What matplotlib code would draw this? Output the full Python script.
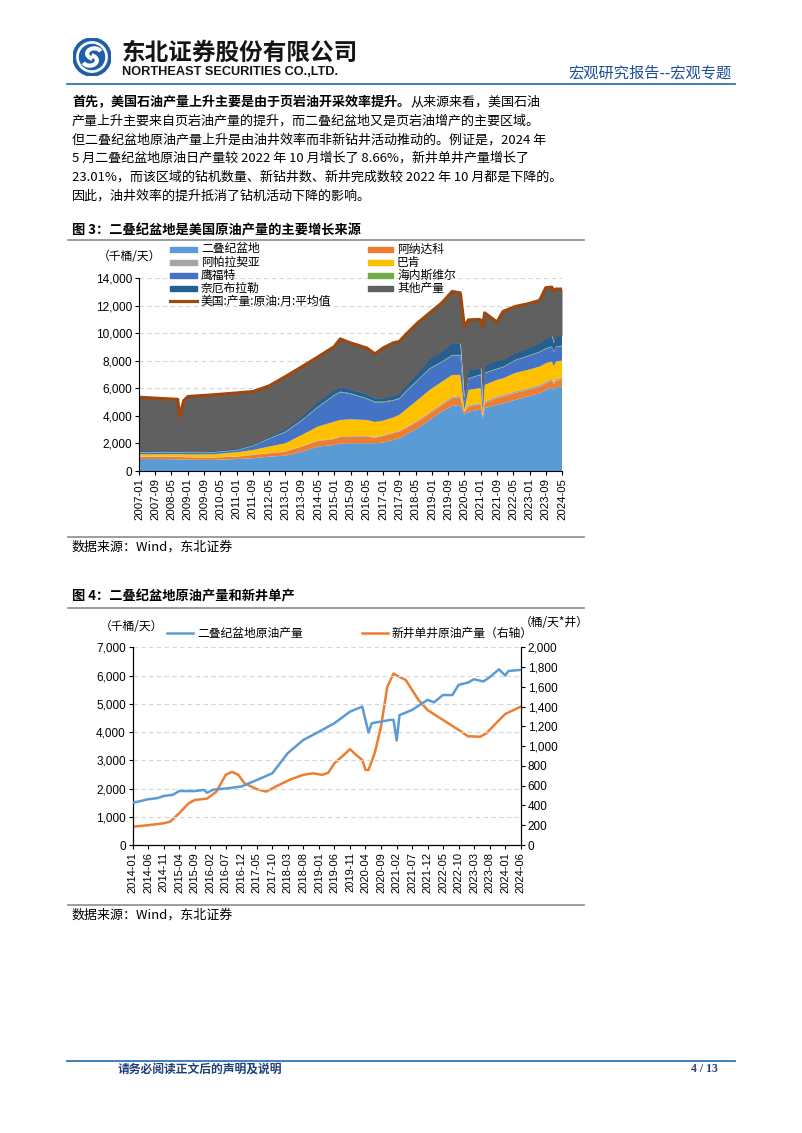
import numpy as np
import pandas as pd
import matplotlib
matplotlib.use('Agg')
import matplotlib.pyplot as plt
from matplotlib.patches import Rectangle, Circle, Arc
from matplotlib.lines import Line2D

plt.rcParams['font.family'] = ['Noto Sans CJK SC', 'DejaVu Sans']

# ---------------- data: figure 3 (kb/d, stacked by basin) ----------------
dates3 = ['2007-01', '2008-01', '2008-08', '2008-09', '2008-11', '2009-01', '2010-01',
          '2011-01', '2011-09', '2012-05', '2013-01', '2013-09', '2014-05', '2015-01',
          '2015-04', '2015-09', '2016-05', '2016-09', '2017-01', '2017-06', '2017-09',
          '2017-12', '2018-06', '2018-12', '2019-06', '2019-11', '2020-03', '2020-05',
          '2020-07', '2020-12', '2021-01', '2021-02', '2021-03', '2021-09', '2021-12',
          '2022-06', '2022-12', '2023-06', '2023-09', '2023-12', '2024-01', '2024-02',
          '2024-05']
permian3 = [870, 860, 850, 840, 840, 820, 800, 870, 920, 1040, 1110, 1400, 1770, 1890,
            2000, 2010, 2010, 2010, 2060, 2250, 2370, 2610, 3100, 3700, 4310, 4720, 4790,
            4100, 4310, 4430, 4450, 3800, 4570, 4790, 4910, 5150, 5400, 5640, 5880, 6070,
            5880, 6070, 6120]
anadarko3 = [170, 170, 170, 170, 170, 170, 170, 170, 240, 240, 290, 370, 410, 430,
             470, 480, 480, 410, 480, 490, 490, 490, 480, 490, 480, 560, 560, 150,
             360, 360, 360, 150, 360, 490, 490, 510, 480, 480, 480, 490, 430, 490, 490]
appalachia3 = [20, 20, 20, 20, 20, 20, 20, 25, 25, 25, 30, 30, 40, 40, 40, 50, 50, 50,
               50, 60, 60, 60, 80, 80, 110, 110, 110, 50, 110, 110, 110, 40, 120, 120,
               120, 120, 120, 130, 130, 130, 130, 130, 130]
bakken3 = [150, 160, 180, 180, 190, 190, 220, 295, 335, 465, 580, 810, 1000, 1220,
           1190, 1210, 1160, 1090, 1060, 1080, 1150, 1270, 1490, 1610, 1580, 1580, 1510,
           150, 1100, 1100, 1100, 160, 1190, 1210, 1200, 1330, 1330, 1320, 1330, 1250,
           1180, 1250, 1270]
eagleford3 = [140, 130, 120, 120, 120, 120, 120, 130, 290, 570, 800, 1040, 1400, 1890,
              2010, 1840, 1530, 1420, 1330, 1220, 1160, 1280, 1410, 1530, 1410, 1400, 1400,
              530, 810, 930, 930, 630, 850, 780, 800, 910, 980, 1050, 1040, 1050,
              1000, 1050, 1050]
haynesville3 = [30, 30, 30, 30, 30, 30, 30, 30, 30, 30, 50, 50, 50, 50, 50, 50, 50, 50,
                50, 50, 50, 50, 50, 50, 50, 50, 50, 20, 40, 40, 40, 20, 40, 40, 40, 40,
                40, 40, 40, 40, 40, 40, 40]
niobrara3 = [70, 70, 80, 80, 80, 80, 90, 130, 100, 120, 190, 240, 360, 360, 330, 290,
             290, 250, 250, 300, 360, 360, 500, 720, 720, 850, 850, 200, 600, 490, 490,
             200, 510, 610, 500, 500, 550, 610, 730, 770, 610, 770, 700]
total3 = [5350, 5250, 5200, 3950, 5100, 5400, 5520, 5660, 5760, 6170, 6850, 7550, 8270,
          9020, 9580, 9290, 8920, 8490, 8920, 9290, 9390, 9870, 10740, 11470, 12200,
          13020, 12920, 10450, 10960, 10990, 10960, 10480, 11470, 10800, 11570, 11930,
          12120, 12370, 13290, 13340, 13020, 13200, 13190]

names3 = ['二叠纪盆地', '阿纳达科', '阿帕拉契亚', '巴肯', '鹰福特', '海内斯维尔',
          '奈厄布拉勒', '其他产量']
colors3 = ['#5B9BD5', '#ED7D31', '#A5A5A5', '#FFC000', '#4472C4', '#70AD47',
           '#255E91', '#606060']
total_name = '美国:产量:原油:月:平均值'

# ---------------- data: figure 4 ----------------
dates4b = ['2014-01', '2014-03', '2014-06', '2014-09', '2014-11', '2015-02', '2015-04',
           '2015-09', '2015-12', '2016-01', '2016-03', '2016-07', '2016-12', '2017-05',
           '2017-10', '2018-03', '2018-08', '2019-01', '2019-06', '2019-11', '2020-03',
           '2020-04', '2020-05', '2020-06', '2020-09', '2020-12', '2021-01', '2021-02',
           '2021-03', '2021-07', '2021-12', '2022-02', '2022-05', '2022-08', '2022-10',
           '2023-01', '2023-03', '2023-06', '2023-08', '2023-11', '2024-01', '2024-02',
           '2024-06']
permian4 = [1500, 1540, 1620, 1660, 1735, 1780, 1910, 1910, 1950, 1850, 1960, 2000, 2070,
            2300, 2540, 3250, 3720, 4010, 4310, 4720, 4900, 4430, 3980, 4310, 4370, 4430,
            4430, 3700, 4600, 4780, 5140, 5050, 5310, 5310, 5670, 5750, 5870, 5790, 5940,
            6220, 6000, 6160, 6200]
dates4o = ['2014-01', '2014-06', '2014-11', '2015-01', '2015-04', '2015-07', '2015-09',
           '2016-01', '2016-04', '2016-07', '2016-09', '2016-11', '2017-01', '2017-05',
           '2017-08', '2017-12', '2018-04', '2018-08', '2018-11', '2019-02', '2019-04',
           '2019-06', '2019-09', '2019-11', '2020-01', '2020-03', '2020-04', '2020-05',
           '2020-07', '2020-09', '2020-11', '2021-01', '2021-03', '2021-05', '2021-07',
           '2021-09', '2021-12', '2022-05', '2022-10', '2023-01', '2023-05', '2023-07',
           '2023-10', '2024-01', '2024-06']
newwell4 = [185, 200, 220, 235, 320, 420, 455, 470, 540, 710, 740, 710, 625, 565, 540,
            605, 665, 710, 725, 710, 730, 826, 910, 970, 910, 860, 760, 760, 930, 1200,
            1600, 1735, 1700, 1670, 1570, 1470, 1365, 1265, 1165, 1100, 1095, 1130, 1230,
            1325, 1400]
names4 = ['二叠纪盆地原油产量', '新井单井原油产量（右轴）']

# ---------------- page ----------------
W, H = 802, 1133
fig = plt.figure(figsize=(W / 100, H / 100), dpi=100)


def fx(x):
    return x / W


def fy(y):
    return 1 - y / H


def hline(x0, x1, y, color, lw):
    fig.add_artist(Line2D([fx(x0), fx(x1)], [fy(y), fy(y)], color=color, lw=lw))


# header / logo
logo = fig.add_axes([fx(73), fy(76), 38 / W, 38 / H])
logo.set_xlim(-1, 1)
logo.set_ylim(-1, 1)
logo.set_aspect('equal')
logo.axis('off')
logo.add_patch(Circle((0, 0), 1, color='#1F5FAA'))
logo.add_patch(Circle((0, 0), 0.8, color='white'))
logo.add_patch(Circle((0, 0), 0.66, color='#1F5FAA'))
logo.add_patch(Arc((0.12, 0.18), 0.75, 0.55, theta1=20, theta2=250, color='white', lw=3))
logo.add_patch(Arc((-0.12, -0.18), 0.75, 0.55, theta1=200, theta2=430, color='white', lw=3))

fig.text(fx(122), fy(53), '东北证券股份有限公司', fontsize=17, fontweight='heavy',
         va='center', color='#151515')
fig.text(fx(122), fy(72), 'NORTHEAST SECURITIES CO.,LTD.', fontsize=9.2,
         fontweight='bold', family='Liberation Sans', va='center', color='#151515')
fig.text(fx(732), fy(73), '宏观研究报告--宏观专题', fontsize=11, color='#1F4E99',
         ha='right', va='center')
hline(67, 735, 84, '#2E75B6', 1.3)

# paragraph
fs_body = 9.4
para_y = [102, 121, 140, 158, 177, 196]
lines = ['产量上升主要来自页岩油产量的提升，而二叠纪盆地又是页岩油增产的主要区域。',
         '但二叠纪盆地原油产量上升是由油井效率而非新钻井活动推动的。例证是，2024 年',
         '5 月二叠纪盆地原油日产量较 2022 年 10 月增长了 8.66%，新井单井产量增长了',
         '23.01%，而该区域的钻机数量、新钻井数、新井完成数较 2022 年 10 月都是下降的。',
         '因此，油井效率的提升抵消了钻机活动下降的影响。']
t = fig.text(fx(72), fy(para_y[0]), '首先，美国石油产量上升主要是由于页岩油开采效率提升。',
             fontsize=fs_body, fontweight='bold', va='center')
bb = t.get_window_extent(fig.canvas.get_renderer())
fig.text(bb.x1 / W, fy(para_y[0]), '从来源来看，美国石油', fontsize=fs_body, va='center')
for y, s in zip(para_y[1:], lines):
    fig.text(fx(72), fy(y), s, fontsize=fs_body, va='center')

# ---------------- figure 3 ----------------
fig.text(fx(72), fy(230), '图 3：二叠纪盆地是美国原油产量的主要增长来源', fontsize=9.5,
         fontweight='bold', va='center')
hline(68, 584, 240, '#8C8C8C', 1.2)

d3 = pd.to_datetime(dates3)
basins = [permian3, anadarko3, appalachia3, bakken3, eagleford3, haynesville3, niobrara3]
ax3 = fig.add_axes([fx(139), fy(471), 423 / W, 193 / H])
ax3.stackplot(d3, *basins, colors=colors3[:7], lw=0)
top3 = np.sum(np.array(basins), axis=0)
ax3.fill_between(d3, top3, total3, color=colors3[7], lw=0)
ax3.plot(d3, total3, color='#9E480E', lw=2.3)
ax3.set_ylim(0, 14000)
ax3.set_yticks(np.arange(0, 14001, 2000))
ax3.set_yticklabels([f'{v:,}' for v in range(0, 14001, 2000)], family='Liberation Sans',
                    fontsize=8.5)
ticks3 = pd.date_range('2007-01-01', '2024-05-01', freq='8MS')
ax3.set_xlim(d3[0], d3[-1])
ax3.set_xticks(ticks3)
ax3.set_xticklabels([d.strftime('%Y-%m') for d in ticks3], rotation=90,
                    family='Liberation Sans', fontsize=8.2)
ax3.yaxis.grid(True, ls=(0, (4, 3)), color='#D5D5D5', lw=0.8)
ax3.set_axisbelow(True)
for s in ['top', 'right']:
    ax3.spines[s].set_visible(False)
ax3.tick_params(length=3, width=0.8, pad=2)
fig.text(fx(98), fy(257), '（千桶/天）', fontsize=8.5, va='center')

# legend (two columns)
leg_rows = [249, 262, 275, 288]
col1 = [0, 2, 4, 6]
col2 = [1, 3, 5, 7]
for y, i in zip(leg_rows, col1):
    fig.add_artist(Rectangle((fx(170), fy(y + 2.5)), 27 / W, 5 / H, color=colors3[i],
                             transform=fig.transFigure))
    fig.text(fx(201), fy(y), names3[i], fontsize=8.5, va='center')
for y, i in zip(leg_rows, col2):
    fig.add_artist(Rectangle((fx(368), fy(y + 2.5)), 25 / W, 5 / H, color=colors3[i],
                             transform=fig.transFigure))
    fig.text(fx(397), fy(y), names3[i], fontsize=8.5, va='center')
hline(170, 197, 301, '#9E480E', 2.3)
fig.text(fx(201), fy(301), total_name, fontsize=8.5, va='center')

hline(68, 584, 537, '#8C8C8C', 1.2)
fig.text(fx(72), fy(547), '数据来源：Wind，东北证券', fontsize=fs_body, va='center')

# ---------------- figure 4 ----------------
fig.text(fx(72), fy(596), '图 4：二叠纪盆地原油产量和新井单产', fontsize=9.5,
         fontweight='bold', va='center')
hline(68, 584, 608, '#8C8C8C', 1.2)

ax4 = fig.add_axes([fx(132.7), fy(845), 388 / W, 197.7 / H])
ax4r = ax4.twinx()
d4b = pd.to_datetime(dates4b)
d4o = pd.to_datetime(dates4o)
ax4.plot(d4b, permian4, color='#5B9BD5', lw=1.8, zorder=3)
ax4r.plot(d4o, newwell4, color='#ED7D31', lw=1.8)
ax4.set_zorder(ax4r.get_zorder() + 1)
ax4.patch.set_visible(False)
ax4.set_ylim(0, 7000)
ax4.set_yticks(np.arange(0, 7001, 1000))
ax4.set_yticklabels([f'{v:,}' for v in range(0, 7001, 1000)], family='Liberation Sans',
                    fontsize=8.5)
ax4r.set_ylim(0, 2000)
ax4r.set_yticks(np.arange(0, 2001, 200))
ax4r.set_yticklabels([f'{v:,}' for v in range(0, 2001, 200)], family='Liberation Sans',
                     fontsize=8.5)
ticks4 = pd.date_range('2014-01-01', '2024-06-01', freq='5MS')
ax4.set_xlim(pd.Timestamp('2014-01-01'), pd.Timestamp('2024-06-01'))
ax4.set_xticks(ticks4)
ax4.set_xticklabels([d.strftime('%Y-%m') for d in ticks4], rotation=90,
                    family='Liberation Sans', fontsize=8)
ax4r.yaxis.grid(False)
ax4.yaxis.grid(True, ls=(0, (4, 3)), color='#D5D5D5', lw=0.8)
for a in [ax4, ax4r]:
    a.spines['top'].set_visible(False)
    a.tick_params(length=3, width=0.8, pad=2)
fig.text(fx(100), fy(626), '（千桶/天）', fontsize=8.5, va='center')
fig.text(fx(520), fy(623), '（桶/天*井）', fontsize=8.5, va='center')
hline(167, 193, 633, '#5B9BD5', 1.8)
fig.text(fx(197), fy(633), names4[0], fontsize=8.5, va='center')
hline(362, 388, 633, '#ED7D31', 1.8)
fig.text(fx(392), fy(633), names4[1], fontsize=8.5, va='center')

hline(68, 584, 905, '#8C8C8C', 1.2)
fig.text(fx(72), fy(915), '数据来源：Wind，东北证券', fontsize=fs_body, va='center')

# footer
hline(67, 735, 1061, '#2E75B6', 1.3)
fig.text(fx(118), fy(1069), '请务必阅读正文后的声明及说明', fontsize=8.5, fontweight='bold',
         color='#1F3F7A', va='center')
fig.text(fx(718), fy(1069), '4 / 13', fontsize=8.5, fontweight='bold', color='#1F3F7A',
         family='Liberation Serif', ha='right', va='center')

fig.savefig('out.png', dpi=100)
